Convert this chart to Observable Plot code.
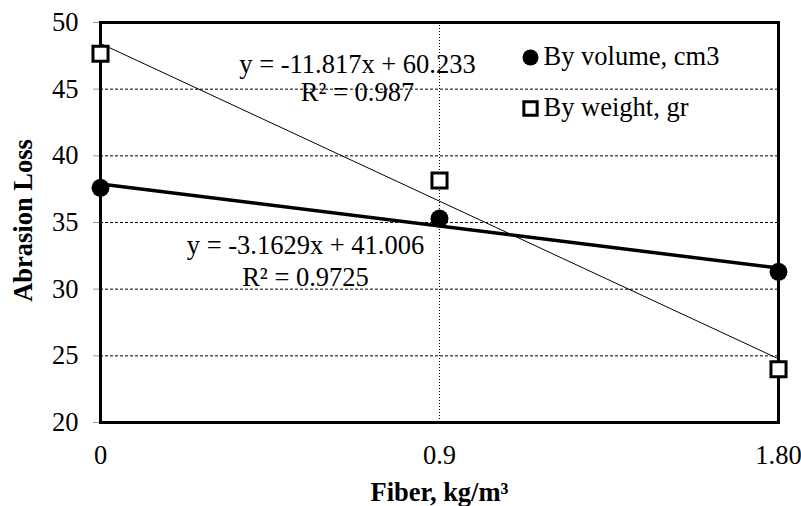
<!DOCTYPE html>
<html>
<head>
<meta charset="utf-8">
<script src="https://cdn.jsdelivr.net/npm/d3@7"></script>
<script src="https://cdn.jsdelivr.net/npm/@observablehq/plot@0.6"></script>
<style>
  html, body { margin: 0; padding: 0; background: #fff; }
  #chart svg { display: block; }
  #chart svg, #chart svg text { font-family: "Liberation Serif", "Times New Roman", serif !important; }
</style>
</head>
<body>
<div id="chart"></div>
<script>
// Data
const fiber = [0, 0.9, 1.8];
const fiberLabels = ["0", "0.9", "1.80"];
const byVolume = [37.6, 35.3, 31.3];
const byWeight = [47.65, 38.15, 24.0];
const yTicks = [20, 25, 30, 35, 40, 45, 50];
const gridY = [25, 30, 35, 40, 45];
const seriesNames = ["By volume, cm3", "By weight, gr"];
const eqVolume = ["y = -3.1629x + 41.006", "R² = 0.9725"];
const eqWeight = ["y = -11.817x + 60.233", "R² = 0.987"];

const volData = fiber.map((f, i) => ({x: f, y: byVolume[i]}));
const wtData = fiber.map((f, i) => ({x: f, y: byWeight[i]}));

const FS = 26.5;
const font = "Liberation Serif";

const chart = Plot.plot({
  width: 801,
  height: 506,
  marginLeft: 100,
  marginRight: 23,
  marginTop: 22,
  marginBottom: 84,
  style: {fontFamily: font, fontSize: FS + "px", background: "#fff", color: "black"},
  x: {domain: [0, 1.8], axis: null},
  y: {domain: [20, 50], axis: null},
  marks: [
    Plot.ruleY(gridY, {stroke: "black", strokeWidth: 1, strokeDasharray: "3,2"}),
    Plot.ruleX([fiber[1]], {stroke: "black", strokeWidth: 1, strokeDasharray: "1,2"}),
    Plot.axisY({ticks: yTicks, tickSize: 7, tickPadding: 15, stroke: "#999", fill: "black", fontSize: FS, fontFamily: font, label: null}),
    Plot.axisX({ticks: fiber, tickSize: 0, tickPadding: 23, tickFormat: (d) => fiberLabels[fiber.indexOf(d)], fontSize: FS, fontFamily: font, label: null}),
    Plot.frame({stroke: "black", strokeWidth: 3}),
    Plot.linearRegressionY(wtData, {x: "x", y: "y", ci: 0, stroke: "black", strokeWidth: 1}),
    Plot.linearRegressionY(volData, {x: "x", y: "y", ci: 0, stroke: "black", strokeWidth: 3.5}),
    Plot.dot(volData, {x: "x", y: "y", r: 9, fill: "black", stroke: "none"}),
    Plot.dot(wtData, {x: "x", y: "y", symbol: "square", r: 8.5, fill: "white", stroke: "black", strokeWidth: 3}),
    // equations
    Plot.text([eqWeight[0]], {frameAnchor: "top-left", dx: 257, dy: 50, text: d => d, textAnchor: "middle", lineAnchor: "bottom", fontSize: FS, fontFamily: font}),
    Plot.text([eqWeight[1]], {frameAnchor: "top-left", dx: 257, dy: 78, text: d => d, textAnchor: "middle", lineAnchor: "bottom", fontSize: FS, fontFamily: font}),
    Plot.text([eqVolume[0]], {frameAnchor: "top-left", dx: 205, dy: 231, text: d => d, textAnchor: "middle", lineAnchor: "bottom", fontSize: FS, fontFamily: font}),
    Plot.text([eqVolume[1]], {frameAnchor: "top-left", dx: 205, dy: 263, text: d => d, textAnchor: "middle", lineAnchor: "bottom", fontSize: FS, fontFamily: font}),
    // legend
    Plot.dot([0], {frameAnchor: "top-left", dx: 430, dy: 35, r: 8, fill: "black"}),
    Plot.dot([0], {frameAnchor: "top-left", dx: 430, dy: 86, r: 7.5, symbol: "square", fill: "white", stroke: "black", strokeWidth: 3}),
    Plot.text([seriesNames[0]], {frameAnchor: "top-left", dx: 443, dy: 42, text: d => d, textAnchor: "start", lineAnchor: "bottom", fontSize: FS, fontFamily: font}),
    Plot.text([seriesNames[1]], {frameAnchor: "top-left", dx: 443, dy: 93, text: d => d, textAnchor: "start", lineAnchor: "bottom", fontSize: FS, fontFamily: font}),
    // axis titles
    Plot.text(["Fiber, kg/m³"], {frameAnchor: "bottom", dy: 78, text: d => d, textAnchor: "middle", lineAnchor: "bottom", fontSize: FS, fontWeight: "bold", fontFamily: font}),
    Plot.text(["Abrasion Loss"], {frameAnchor: "left", dx: -77, dy: -2, text: d => d, rotate: -90, textAnchor: "middle", lineAnchor: "middle", fontSize: FS, fontWeight: "bold", fontFamily: font})
  ]
});
document.getElementById("chart").appendChild(chart);
</script>
</body>
</html>
